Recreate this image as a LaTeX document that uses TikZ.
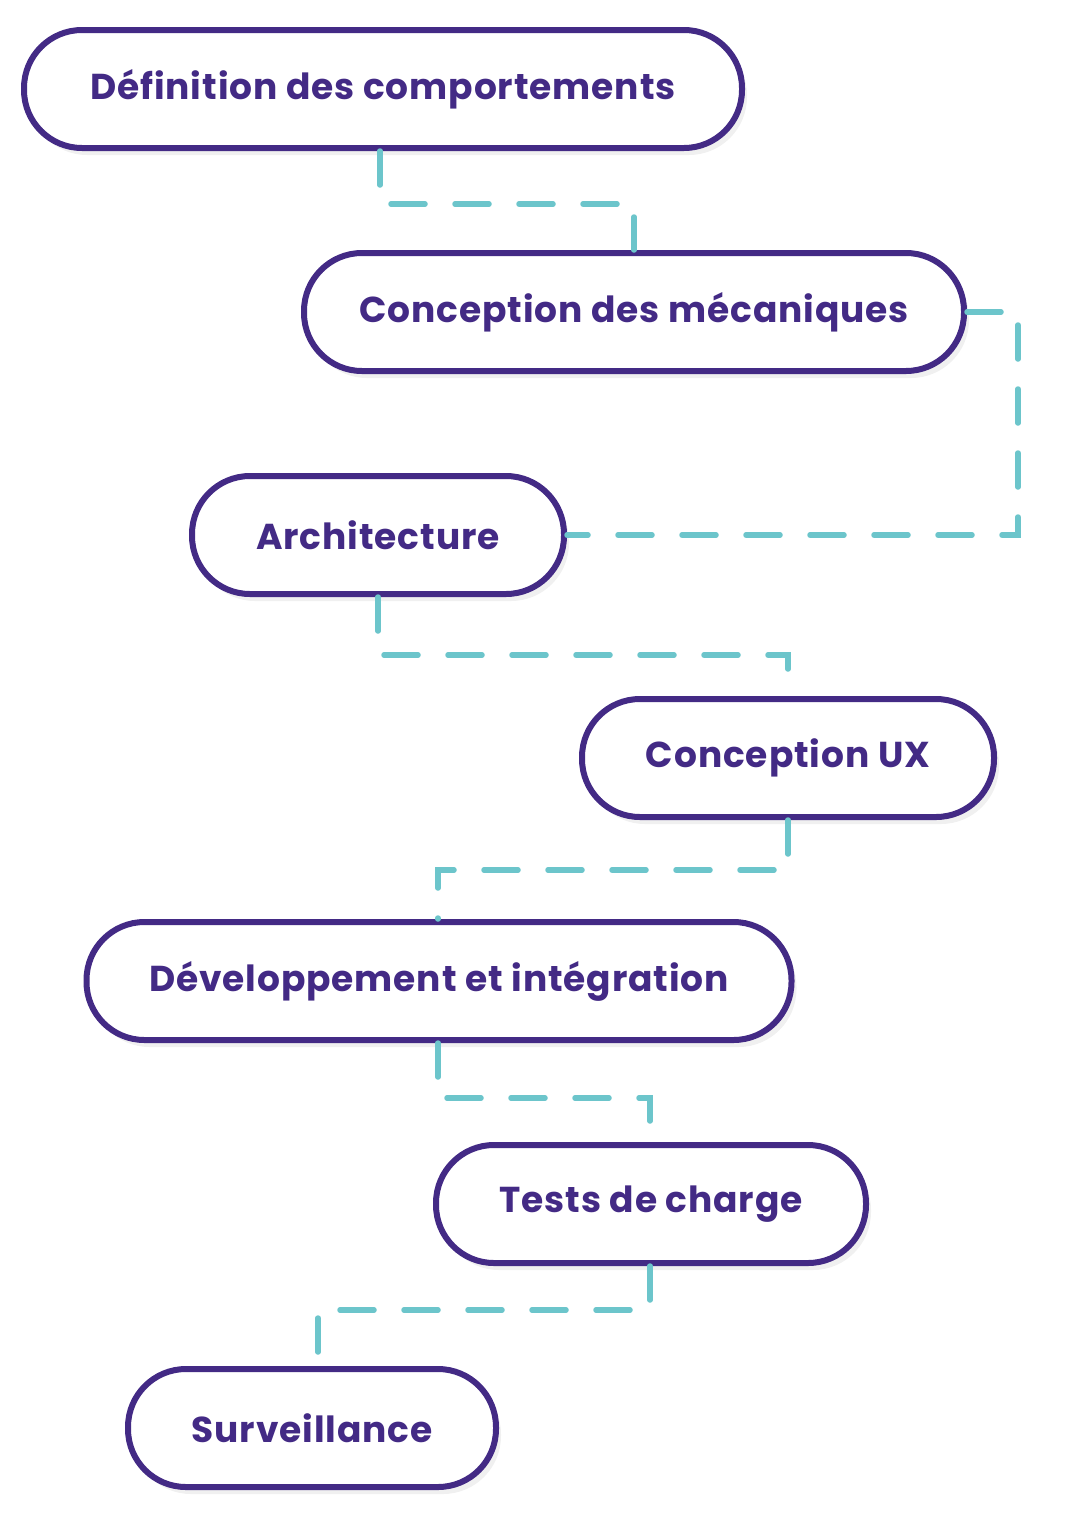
\documentclass[tikz,border=0pt]{standalone}
\usepackage{fontspec}
\setmainfont{Poppins}[LetterSpace=2.5]
\usetikzlibrary{shadows}
\definecolor{pur}{HTML}{432A85}
\definecolor{teal}{HTML}{6CC5CB}
\begin{document}
\begin{tikzpicture}[x=1pt,y=-1pt,
  box/.style={draw=pur,line width=6pt,fill=white,rounded corners=58pt,minimum height=118pt,
    inner sep=0pt,text=pur,font=\fontsize{36}{42}\selectfont\bfseries,
    drop shadow={opacity=0.12,shadow xshift=5pt,shadow yshift=-7pt}},
  link/.style={draw=teal,line width=5.5pt,dash pattern=on 34pt off 30pt,line cap=round}]
\useasboundingbox (0,0) rectangle (1080,1540);
\node[box,minimum width=718pt] (n1) at (383,89) {Définition des comportements};
\node[box,minimum width=660pt] (n2) at (634,312) {Conception des mécaniques};
\node[box,minimum width=372pt] (n3) at (378,535) {Architecture};
\node[box,minimum width=412pt] (n4) at (788,758) {Conception UX};
\node[box,minimum width=705pt] (n5) at (439,981) {Développement et intégration};
\node[box,minimum width=430pt] (n6) at (651,1204) {Tests de charge};
\node[box,minimum width=368pt] (n7) at (312,1428) {Surveillance};
\coordinate (c1) at (380,204);
\coordinate (c2) at (1018,312);
\coordinate (c3) at (378,655);
\coordinate (c4) at (788,870);
\coordinate (c5) at (438,1098);
\coordinate (c6) at (650,1310);
\draw[link] (n1.south -| c1) |- (c1 -| n2.north) -- (n2.north);
\draw[link] (n2.east) -- (c2) |- (n3.east);
\draw[link] (n3.south) |- (c3 -| n4.north) -- (n4.north);
\draw[link] (n4.south) |- (c4 -| c5) -- (n5.north -| c5);
\draw[link] (n5.south -| c5) |- (c5 -| c6) -- (n6.north -| c6);
\draw[link] (n6.south -| c6) |- (c6 -| 318,0) -- (n7.north -| 318,0);
\end{tikzpicture}
\end{document}
